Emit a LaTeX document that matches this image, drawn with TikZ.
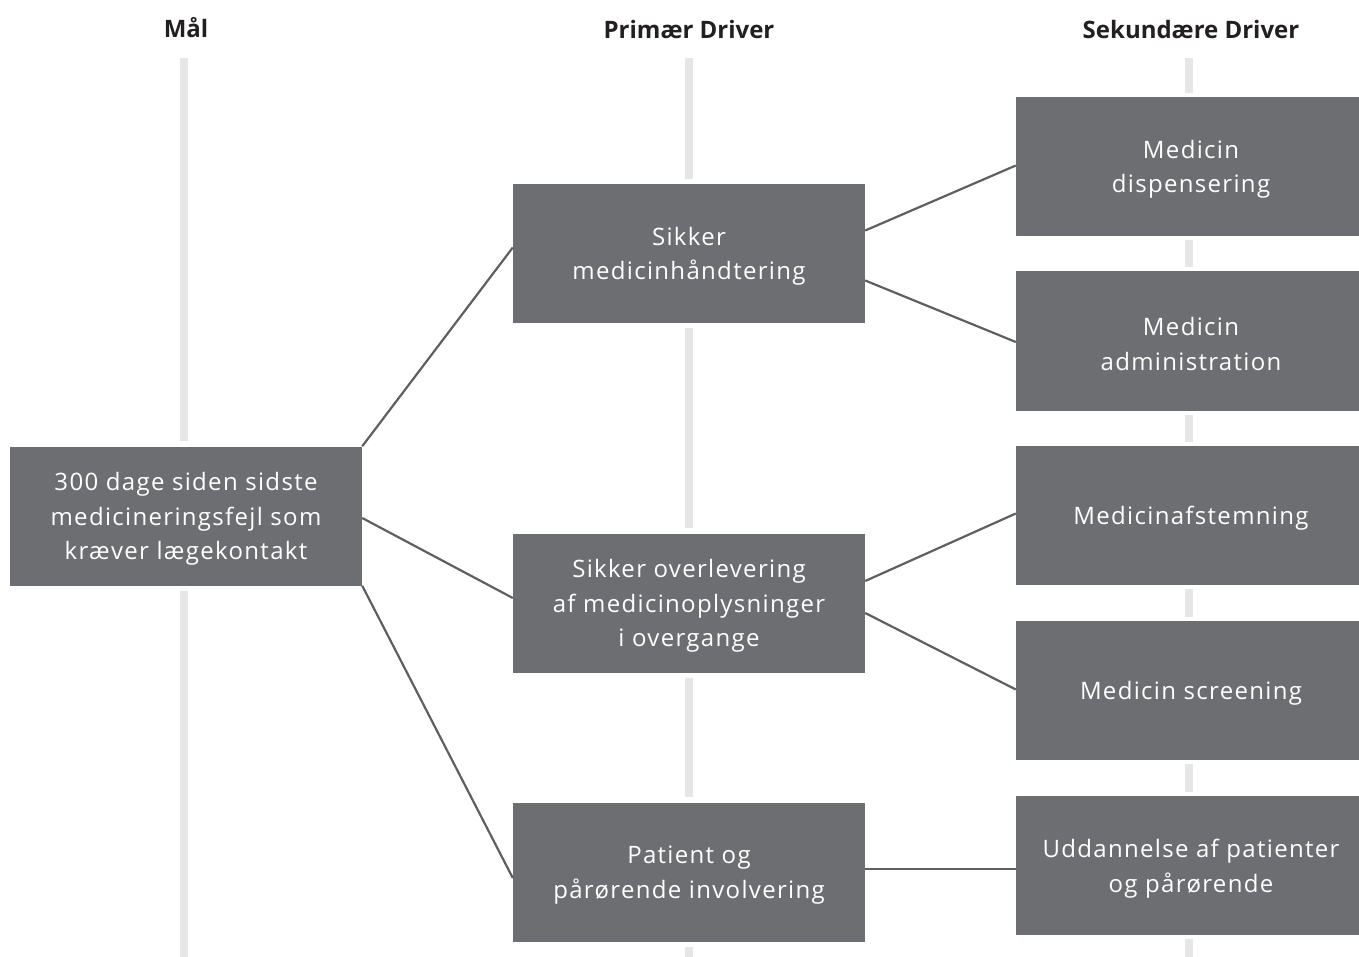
\documentclass[tikz,border=0pt]{standalone}
\usepackage{fontspec}
\setmainfont{Open Sans}
\newfontfamily\boxfont[LetterSpace=5.5]{Open Sans}
\usetikzlibrary{calc}
\definecolor{boxgray}{HTML}{6D6E71}
\definecolor{bargray}{HTML}{E6E6E6}
\definecolor{linegray}{HTML}{5E5F62}
\definecolor{headcol}{HTML}{231F20}
\newcommand\boxtxt[2]{\parbox{#1}{\centering\vspace*{6pt}#2}}
\newcommand\secboxtxt[1]{\hspace*{7pt}\parbox{336pt}{\centering\vspace*{6pt}#1}}
\tikzset{
  drvbox/.style={fill=boxgray, text=white, align=center, inner sep=0pt,
    minimum width=352pt, minimum height=139pt,
    font=\boxfont\fontsize{24}{34.5}\selectfont},
  secbox/.style={drvbox, minimum width=343pt},
  colbar/.style={draw=bargray, line width=8pt},
  conn/.style={draw=linegray, line width=2.2pt},
  head/.style={font=\fontsize{24}{28}\selectfont\bfseries, text=headcol, inner sep=0pt}
}
\begin{document}
\begin{tikzpicture}[x=1pt,y=-1pt]
\useasboundingbox (0,0) rectangle (1359,957);
% headers
\node[head] (h1) at (186,28) {Mål};
\node[head] (h2) at (689,30) {Primær Driver};
\node[head] (h3) at (1191,30) {Sekundære Driver};
% nodes
\node[drvbox] (goal) at (186,516) {\boxtxt{352pt}{300 dage siden sidste\\medicineringsfejl som\\kræver lægekontakt}};
\node[drvbox] (p1) at (689,253.5) {\boxtxt{352pt}{Sikker\\medicinhåndtering}};
\node[drvbox] (p2) at (689,603) {\boxtxt{352pt}{Sikker overlevering\\af medicinoplysninger\\i overgange}};
\node[drvbox] (p3) at (689,872) {\boxtxt{352pt}{Patient og\\pårørende involvering}};
\node[secbox] (s1) at (1187.5,166.5) {\secboxtxt{Medicin\\dispensering}};
\node[secbox] (s2) at (1187.5,341) {\secboxtxt{Medicin\\administration}};
\node[secbox] (s3) at (1187.5,515.5) {\secboxtxt{Medicinafstemning}};
\node[secbox] (s4) at (1187.5,690.5) {\secboxtxt{Medicin screening}};
\node[secbox] (s5) at (1187.5,865.5) {\secboxtxt{Uddannelse af patienter\\og pårørende}};
% column bars
\coordinate (c1t) at (184,58);
\coordinate (c1b) at (184,957);
\coordinate (c2t) at (689,58);
\coordinate (c2b) at (689,957);
\coordinate (c3t) at (1189,58);
\coordinate (c3b) at (1189,957);
\draw[colbar] (c1t) -- (c1t |- {$(goal.north)+(0,-5)$});
\draw[colbar] (c1b) -- (c1b |- {$(goal.south)+(0,5)$});
\draw[colbar] (c2t) -- (c2t |- {$(p1.north)+(0,-5)$});
\draw[colbar] (c2t |- {$(p1.south)+(0,5)$}) -- (c2t |- {$(p2.north)+(0,-5)$});
\draw[colbar] (c2t |- {$(p2.south)+(0,5)$}) -- (c2t |- {$(p3.north)+(0,-5)$});
\draw[colbar] (c2b) -- (c2b |- {$(p3.south)+(0,5)$});
\draw[colbar] (c3t) -- (c3t |- {$(s1.north)+(0,-4)$});
\draw[colbar] (c3t |- {$(s1.south)+(0,4)$}) -- (c3t |- {$(s2.north)+(0,-4)$});
\draw[colbar] (c3t |- {$(s2.south)+(0,4)$}) -- (c3t |- {$(s3.north)+(0,-4)$});
\draw[colbar] (c3t |- {$(s3.south)+(0,4)$}) -- (c3t |- {$(s4.north)+(0,-4)$});
\draw[colbar] (c3t |- {$(s4.south)+(0,4)$}) -- (c3t |- {$(s5.north)+(0,-4)$});
\draw[colbar] (c3b) -- (c3b |- {$(s5.south)+(0,4)$});
% connectors
\draw[conn] (goal.north east) -- ($(p1.west)+(0,-6)$);
\draw[conn] ($(goal.east)+(0,2)$) -- ($(p2.west)+(0,-5)$);
\draw[conn] (goal.south east) -- ($(p3.west)+(0,6)$);
\draw[conn] ($(p1.east)+(0,-23)$) -- ($(s1.west)+(0,-1)$);
\draw[conn] ($(p1.east)+(0,27)$) -- ($(s2.west)+(0,1)$);
\draw[conn] ($(p2.east)+(0,-22)$) -- ($(s3.west)+(0,-2)$);
\draw[conn] ($(p2.east)+(0,10)$) -- ($(s4.west)+(0,-1)$);
\coordinate (p3r) at ($(p3.east)+(0,-3)$);
\draw[conn] (p3r) -- (p3r -| s5.west);
\end{tikzpicture}
\end{document}
